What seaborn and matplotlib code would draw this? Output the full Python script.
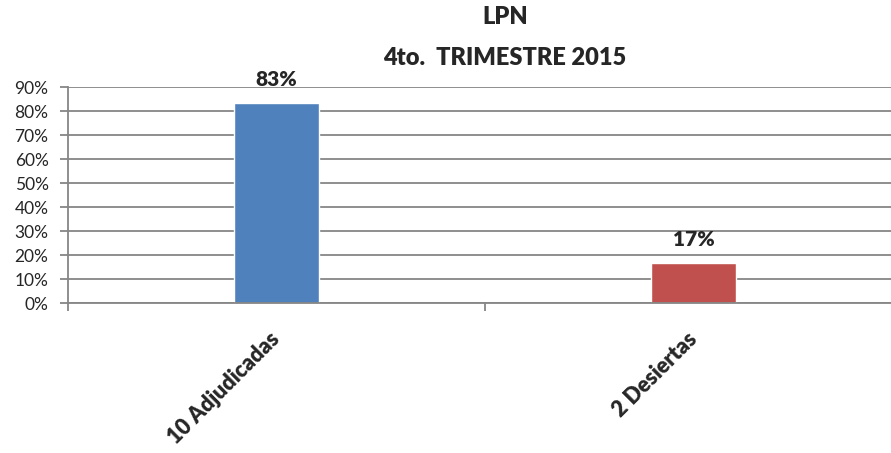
import matplotlib
matplotlib.use("Agg")
import matplotlib.pyplot as plt
import seaborn as sns
import pandas as pd
from matplotlib.ticker import PercentFormatter, FixedLocator

categories = ["10 Adjudicadas", "2 Desiertas"]
values = [83.33, 16.67]
labels = ["83%", "17%"]
colors = ["#4F81BD", "#C0504D"]
yticks = [0, 10, 20, 30, 40, 50, 60, 70, 80, 90]

sns.set_style("white")
plt.rcParams["font.family"] = ["Lato", "DejaVu Sans"]

df = pd.DataFrame({"cat": categories, "val": values})

fig = plt.figure(figsize=(8.91, 4.53), dpi=100)
ax = fig.add_axes([68 / 891, 1 - 303 / 453, 823 / 891, (303 - 87) / 453])

sns.barplot(data=df, x="cat", y="val", hue="cat", palette=colors,
            width=0.206, legend=False, ax=ax, saturation=1)

ax.set_xlim(-0.5, -0.5 + 823 / 417)
ax.set_ylim(0, 90)
ax.set_yticks(yticks)
ax.yaxis.set_major_formatter(PercentFormatter(decimals=0))
ax.grid(axis="y", color="#868686", linewidth=1.3)
ax.set_axisbelow(True)

for s in ["top", "right"]:
    ax.spines[s].set_visible(False)
for s in ["left", "bottom"]:
    ax.spines[s].set_color("#868686")
    ax.spines[s].set_linewidth(1.3)

ax.tick_params(axis="y", left=True, length=6, color="#868686", width=1.3,
               labelsize=12.5, pad=8)
ax.tick_params(axis="x", bottom=False, labelsize=15.5, pad=20)
ax.xaxis.set_minor_locator(FixedLocator([-0.5, 0.5, 1.5]))
ax.tick_params(axis="x", which="minor", bottom=True, length=6,
               color="#868686", width=1.3)

for t in ax.get_xticklabels():
    t.set_rotation(45)
    t.set_ha("right")
    t.set_va("center")
    t.set_rotation_mode("anchor")
    t.set_fontweight("heavy")

for i, (v, lab) in enumerate(zip(values, labels)):
    ax.text(i, v + 6, lab, ha="center", va="bottom", fontsize=15,
            fontweight="heavy")

ax.set_xlabel("")
ax.set_ylabel("")

fig.text(505 / 891, 1 - 17 / 453, "LPN", ha="center", va="center",
         fontsize=17, fontweight="heavy")
fig.text(505 / 891, 1 - 58 / 453, "4to.  TRIMESTRE 2015", ha="center",
         va="center", fontsize=17, fontweight="heavy")

fig.savefig("out.png", dpi=100)
